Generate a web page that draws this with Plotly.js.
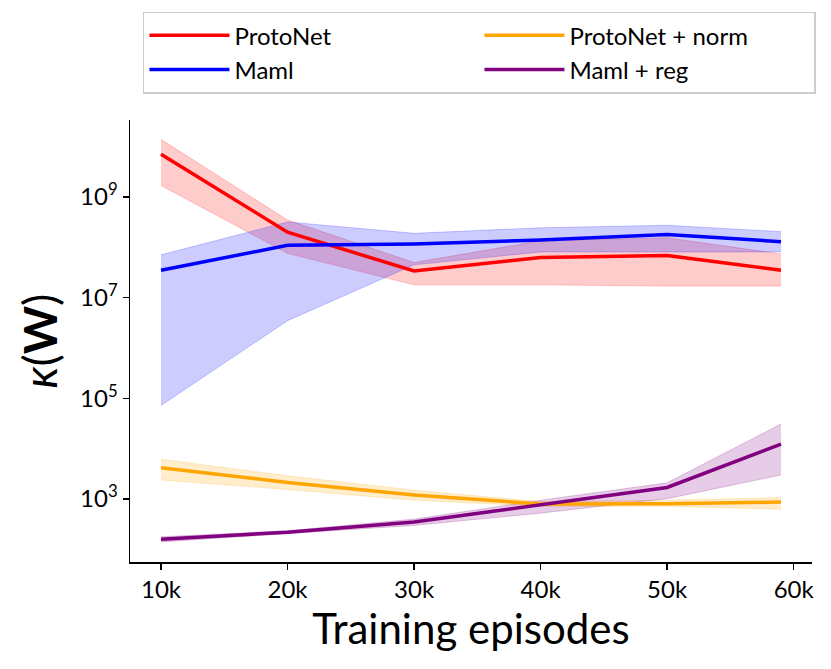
<!DOCTYPE html>
<html>
<head>
<meta charset="utf-8">
<script src="https://cdn.plot.ly/plotly-3.0.1.min.js"></script>
<style>
  html, body { margin: 0; padding: 0; background: #fff; }
  #chart { width: 831px; height: 669px; }
</style>
</head>
<body>
<div id="chart"></div>
<script>
// training episodes at which kappa(W) was measured
const episodes = [10000, 20000, 30000, 40000, 50000, 59000];
const tickVals = [10000, 20000, 30000, 40000, 50000, 60000];
const tickText = ['10k', '20k', '30k', '40k', '50k', '60k'];

const protoMean = [7.1e9, 2.0e8, 3.4e7, 6.3e7, 6.9e7, 3.5e7];
const protoHigh = [1.4e10, 3.5e8, 5.0e7, 1.35e8, 1.55e8, 7.4e7];
const protoLow  = [1.7e9, 7.6e7, 1.8e7, 1.8e7, 1.7e7, 1.7e7];

const mamlMean = [3.5e7, 1.1e8, 1.17e8, 1.4e8, 1.8e8, 1.3e8];
const mamlHigh = [7.1e7, 3.2e8, 1.9e8, 2.45e8, 2.75e8, 2.05e8];
const mamlLow  = [7.2e4, 3.5e6, 4.5e7, 8.1e7, 8.1e7, 8.1e7];

const normMean = [4200, 2140, 1200, 800, 810, 870];
const normHigh = [6200, 2900, 1500, 890, 950, 1070];
const normLow  = [2400, 1550, 950, 720, 720, 630];

const regMean = [160, 220, 350, 760, 1700, 12300];
const regHigh = [178, 235, 400, 950, 2100, 31000];
const regLow  = [141, 205, 300, 525, 1020, 3000];

const series = [
    { name: 'ProtoNet', color: 'rgb(255,0,0)', fill: 'rgba(255,0,0,0.2)', mean: protoMean, lo: protoLow, hi: protoHigh, rank: 1 },
    { name: 'Maml', color: 'rgb(0,0,255)', fill: 'rgba(0,0,255,0.2)', mean: mamlMean, lo: mamlLow, hi: mamlHigh, rank: 3 },
    { name: 'ProtoNet + norm', color: 'rgb(255,165,0)', fill: 'rgba(255,165,0,0.2)', mean: normMean, lo: normLow, hi: normHigh, rank: 2 },
    { name: 'Maml + reg', color: 'rgb(128,0,128)', fill: 'rgba(128,0,128,0.2)', mean: regMean, lo: regLow, hi: regHigh, rank: 4 }
];

const traces = [];
series.forEach(s => {
    traces.push({
        x: episodes, y: s.lo, type: 'scatter', mode: 'lines',
        line: { color: s.fill, width: 1 }, showlegend: false, hoverinfo: 'skip'
    });
    traces.push({
        x: episodes, y: s.hi, type: 'scatter', mode: 'lines',
        line: { color: s.fill, width: 1 }, fill: 'tonexty', fillcolor: s.fill,
        showlegend: false, hoverinfo: 'skip'
    });
});
series.forEach(s => {
    traces.push({
        x: episodes, y: s.mean, type: 'scatter', mode: 'lines', name: s.name,
        line: { color: s.color, width: 3.5 }, legendrank: s.rank
    });
});

const font = 'Lato, "DejaVu Sans", sans-serif';

const layout = {
    width: 831,
    height: 669,
    margin: { l: 130, r: 19, t: 120, b: 107 },
    paper_bgcolor: '#fff',
    plot_bgcolor: '#fff',
    font: { family: font, color: '#000', size: 22 },
    showlegend: true,
    legend: {
        orientation: 'h',
        x: 0.019, xanchor: 'left',
        y: 1.245, yanchor: 'top',
        itemwidth: 80,
        entrywidth: 240,
        bordercolor: '#cccccc', borderwidth: 1.5,
        font: { family: font, size: 24 },
        traceorder: 'normal'
    },
    xaxis: {
        range: [7550, 61450],
        tickvals: tickVals,
        ticktext: tickText,
        showgrid: false, zeroline: false,
        showline: true, linecolor: '#000', linewidth: 1.5,
        ticks: 'outside', ticklen: 6, tickwidth: 1.5, tickcolor: '#000',
        tickfont: { size: 24 },
        title: { text: 'Training episodes', font: { size: 42 }, standoff: 8 }
    },
    yaxis: {
        type: 'log',
        range: [1.75, 10.53],
        tickvals: [1e3, 1e5, 1e7, 1e9],
        ticktext: ['10<sup>3</sup>', '10<sup>5</sup>', '10<sup>7</sup>', '10<sup>9</sup>'],
        showgrid: false, zeroline: false,
        showline: true, linecolor: '#000', linewidth: 1.5,
        ticks: 'outside', ticklen: 6, tickwidth: 1.5, tickcolor: '#000',
        tickfont: { size: 24 },
        title: { text: '<i>κ</i>(<b>W</b>)', font: { size: 46 }, standoff: 8 }
    }
};

Plotly.newPlot('chart', traces, layout, { displayModeBar: false, staticPlot: true });
</script>
</body>
</html>
